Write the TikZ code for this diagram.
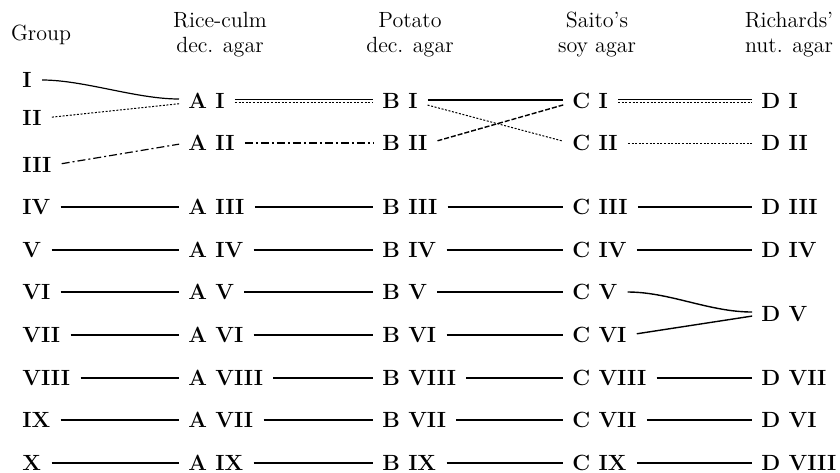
\documentclass[tikz,border=0pt]{standalone}
\usepackage{tikz}
\newcommand{\labfont}{\fontsize{11}{13}\selectfont\bfseries}
\newcommand{\headfont}{\fontsize{11}{12.5}\selectfont}

\tikzset{
  lab/.style={anchor=west, inner sep=1pt, font=\labfont},
  head/.style={align=center, inner sep=0pt, font=\headfont},
  link/.style={line width=0.6pt, shorten <=4pt, shorten >=3.5pt},
  dotlink/.style={link, line width=0.5pt, dash pattern=on 1pt off 0.8pt},
  dashlink/.style={link, dash pattern=on 2.5pt off 1pt},
  dashdotlink/.style={link, dash pattern=on 4pt off 1.5pt on 1pt off 1.5pt},
}

\begin{document}
\begin{tikzpicture}[x=0.5pt, y=-0.5pt]
  \useasboundingbox (0,0) rectangle (840,472);

  % column heads
  \node[head] (hGroup) at (41,35) {Group};
  \node[head] (hA) at (220,35) {Rice-culm\\dec. agar};
  \node[head] (hB) at (410,35) {Potato\\dec. agar};
  \node[head] (hC) at (597,35) {Saito's\\soy agar};
  \node[head] (hD) at (789,35) {Richards'\\nut. agar};

  % groups and strains
  \foreach \n / \y in {I/80, II/118, III/165, IV/207, V/250, VI/292, VII/335, VIII/378, IX/420, X/463}
    \node[lab] (g\n) at (20,\y) {\n};
  \foreach \n / \y in {I/101, II/143, III/207, IV/250, V/292, VI/335, VIII/378, VII/420, IX/463} {
    \node[lab] (a\n) at (186,\y) {A \n};
    \node[lab] (b\n) at (380,\y) {B \n};
    \node[lab] (c\n) at (570,\y) {C \n};
  }
  \foreach \n / \y in {I/101, II/143, III/207, IV/250, V/314, VII/378, VI/420, VIII/463}
    \node[lab] (d\n) at (759,\y) {D \n};

  % first rows
  \draw[link] (gI.east) .. controls +(50,0) and +(-50,0) .. ([yshift=1pt]aI.west);
  \draw[dotlink] (gII.east) -- ([yshift=-1pt]aI.west);
  \draw[dashdotlink] (gIII.east) -- (aII.west);

  \draw[link] ([yshift=0.8pt]aI.east) -- ([yshift=0.8pt]bI.west);
  \draw[dotlink] ([yshift=-0.8pt]aI.east) -- ([yshift=-0.8pt]bI.west);
  \draw[dashdotlink] (aII.east) -- (bII.west);

  \draw[link] ([yshift=0.5pt]bI.east) -- ([yshift=0.5pt]cI.west);
  \draw[dotlink] ([yshift=-1pt]bI.east) -- (cII.west);
  \draw[dashlink, line width=0.7pt] (bII.east) -- ([yshift=-1pt]cI.west);

  \draw[link] ([yshift=0.8pt]cI.east) -- ([yshift=0.8pt]dI.west);
  \draw[dotlink] ([yshift=-0.8pt]cI.east) -- ([yshift=-0.8pt]dI.west);
  \draw[dotlink] (cII.east) -- (dII.west);

  % remaining rows
  \foreach \s / \t in {gIV/aIII, gV/aIV, gVI/aV, gVII/aVI, gVIII/aVIII, gIX/aVII, gX/aIX,
                       aIII/bIII, aIV/bIV, aV/bV, aVI/bVI, aVIII/bVIII, aVII/bVII, aIX/bIX,
                       bIII/cIII, bIV/cIV, bV/cV, bVI/cVI, bVIII/cVIII, bVII/cVII, bIX/cIX,
                       cIII/dIII, cIV/dIV, cVIII/dVII, cVII/dVI, cIX/dVIII}
    \draw[link] (\s.east) -- (\t.west);

  \draw[link, line width=0.7pt] (cV.east) .. controls +(50,0) and +(-50,0) .. ([yshift=1pt]dV.west);
  \draw[link, line width=0.7pt] (cVI.east) -- ([yshift=-0.5pt]dV.west);
\end{tikzpicture}
\end{document}
